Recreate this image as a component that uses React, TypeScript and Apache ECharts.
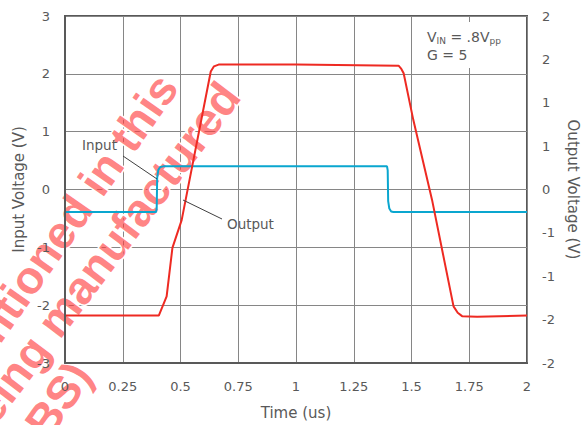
import React, { useEffect, useRef } from 'react';
import * as echarts from 'echarts';

// Time axis (us)
const timeMin = 0;
const timeMax = 2;
const timeStep = 0.25;

// Input waveform (left axis, V)
const inputTime = [0, 0.394, 0.397, 0.399, 0.404, 0.412, 0.426, 1.394, 1.397, 1.399, 1.404, 1.412, 1.422, 2];
const inputVolts = [-0.39, -0.39, -0.33, 0.2, 0.34, 0.39, 0.4, 0.4, 0.33, -0.2, -0.33, -0.38, -0.39, -0.39];

// Output waveform (right axis, V)
const outputTime = [0, 0.406, 0.44, 0.465, 0.505, 0.631, 0.645, 0.665, 1.0, 1.444, 1.456, 1.466, 1.508, 1.589, 1.682, 1.7, 1.719, 1.784, 2];
const outputVolts = [-1.453, -1.453, -1.233, -0.673, -0.353, 1.36, 1.42, 1.44, 1.44, 1.427, 1.39, 1.34, 0.8, -0.12, -1.347, -1.42, -1.46, -1.467, -1.453];

const leftMin = -3;
const leftMax = 3;
const leftStep = 1;
const rightMin = -2;
const rightMax = 2;
const rightStep = 0.5;

const watermarkLines = ['mentioned in this', 'being manufactured', '(OBS)'];

const FONT = '"DejaVu Sans", Verdana, sans-serif';
const GRAY = '#595959';

export default function App() {
  const ref = useRef<HTMLDivElement>(null);
  useEffect(() => {
    const chart = echarts.init(ref.current!, null, { renderer: 'svg' });
    const inputData = inputTime.map((t, i) => [t, inputVolts[i]]);
    const outputData = outputTime.map((t, i) => [t, outputVolts[i]]);
    const wmAnchors = [
      [167, 79],
      [230, 88],
      [81, 367],
    ];
    const wmAngles = [55, 53, 55];
    const option: any = {
      animation: false,
      backgroundColor: '#ffffff',
      textStyle: { fontFamily: FONT },
      grid: {
        left: 65,
        right: 55,
        top: 16,
        bottom: 62,
        outerBoundsMode: 'none',
        containLabel: false,
        show: true,
        borderColor: GRAY,
        borderWidth: 2,
        backgroundColor: 'transparent',
      },
      xAxis: [
        {
          type: 'value',
          min: timeMin,
          max: timeMax,
          interval: timeStep,
          position: 'bottom',
          z: 5,
          name: 'Time (us)',
          nameLocation: 'middle',
          nameGap: 42,
          nameTextStyle: { color: GRAY, fontSize: 15, fontFamily: FONT },
          axisLine: { show: true, onZero: false, lineStyle: { color: GRAY, width: 2 } },
          axisTick: { show: false },
          axisLabel: { color: GRAY, fontSize: 13, fontFamily: FONT, margin: 17 },
          splitLine: { show: false },
        },
        {
          type: 'value',
          min: timeMin,
          max: timeMax,
          interval: timeStep,
          position: 'bottom',
          z: 0,
          axisLine: { show: false, onZero: false },
          axisTick: { show: false },
          axisLabel: { show: false },
          splitLine: { show: true, lineStyle: { color: '#868686', width: 1 } },
        },
      ],
      yAxis: [
        {
          type: 'value',
          min: leftMin,
          max: leftMax,
          interval: leftStep,
          position: 'left',
          z: 5,
          name: 'Input Voltage (V)',
          nameLocation: 'middle',
          nameGap: 36,
          nameRotate: 90,
          nameTextStyle: { color: GRAY, fontSize: 15, fontFamily: FONT },
          axisLine: { show: true, onZero: false, lineStyle: { color: GRAY, width: 2 } },
          axisTick: { show: false },
          axisLabel: { color: GRAY, fontSize: 13, fontFamily: FONT, margin: 15 },
          splitLine: { show: false },
        },
        {
          type: 'value',
          min: rightMin,
          max: rightMax,
          interval: rightStep,
          position: 'right',
          z: 5,
          name: 'Output Voltage (V)',
          nameLocation: 'middle',
          nameGap: 36,
          nameRotate: -90,
          nameTextStyle: { color: GRAY, fontSize: 15, fontFamily: FONT },
          axisLine: { show: false, onZero: false },
          axisTick: { show: false },
          axisLabel: {
            color: GRAY,
            fontSize: 13,
            fontFamily: FONT,
            margin: 15,
            formatter: (v: number) => String(Math.sign(v) * Math.round(Math.abs(v))),
          },
          splitLine: { show: false },
        },
        {
          type: 'value',
          min: leftMin,
          max: leftMax,
          interval: leftStep,
          position: 'left',
          z: 0,
          axisLine: { show: false, onZero: false },
          axisTick: { show: false },
          axisLabel: { show: false },
          splitLine: { show: true, lineStyle: { color: '#868686', width: 1 } },
        },
      ],
      series: [
        {
          name: 'Input',
          type: 'line',
          xAxisIndex: 0,
          yAxisIndex: 0,
          data: inputData,
          showSymbol: false,
          symbol: 'none',
          z: 4,
          lineStyle: { color: '#0aa6cf', width: 2 },
        },
        {
          name: 'Output',
          type: 'line',
          xAxisIndex: 0,
          yAxisIndex: 1,
          data: outputData,
          showSymbol: false,
          symbol: 'none',
          z: 4,
          lineStyle: { color: '#ee2a22', width: 2 },
        },
      ],
      graphic: [
        ...watermarkLines.map((txt, i) => ({
          type: 'text',
          x: wmAnchors[i][0],
          y: wmAnchors[i][1],
          rotation: (wmAngles[i] * Math.PI) / 180,
          z: 1,
          silent: true,
          style: {
            text: txt,
            align: 'right',
            verticalAlign: 'middle',
            font: 'bold 46px "Liberation Sans", Arial, sans-serif',
            fill: 'rgba(255,60,60,0.64)',
            stroke: '#ffffff',
            lineWidth: 3,
            strokeFirst: true,
          },
        })),
        {
          type: 'rect',
          z: 1,
          silent: true,
          shape: { x: 420, y: 22, width: 88, height: 46 },
          style: { fill: '#ffffff' },
        },
        {
          type: 'text',
          x: 427,
          y: 28,
          z: 10,
          style: {
            text: '{n|V}{s|IN}{n| = .8V}{s|pp}\n{n|G = 5}',
            fill: GRAY,
            font: `14px ${FONT}`,
            rich: {
              n: { fontSize: 14, fontFamily: FONT, fill: GRAY, color: GRAY, lineHeight: 18 },
              s: { fontSize: 9, fontFamily: FONT, fill: GRAY, color: GRAY, padding: [8, 0, 0, 0], lineHeight: 18 },
            },
          },
        },
        {
          type: 'text',
          x: 82,
          y: 145,
          z: 10,
          style: { text: 'Input', fill: GRAY, font: `13.5px ${FONT}`, verticalAlign: 'middle' },
        },
        {
          type: 'line',
          z: 10,
          shape: { x1: 123, y1: 156, x2: 157, y2: 179 },
          style: { stroke: '#404040', lineWidth: 1 },
        },
        {
          type: 'text',
          x: 227,
          y: 224,
          z: 10,
          style: { text: 'Output', fill: GRAY, font: `13.5px ${FONT}`, verticalAlign: 'middle' },
        },
        {
          type: 'line',
          z: 10,
          shape: { x1: 183, y1: 200, x2: 222, y2: 219 },
          style: { stroke: '#404040', lineWidth: 1 },
        },
      ],
    };
    chart.setOption(option);
    return () => chart.dispose();
  }, []);
  return <div ref={ref} style={{ position: 'fixed', left: 0, top: 0, width: 582, height: 425 }} />;
}
